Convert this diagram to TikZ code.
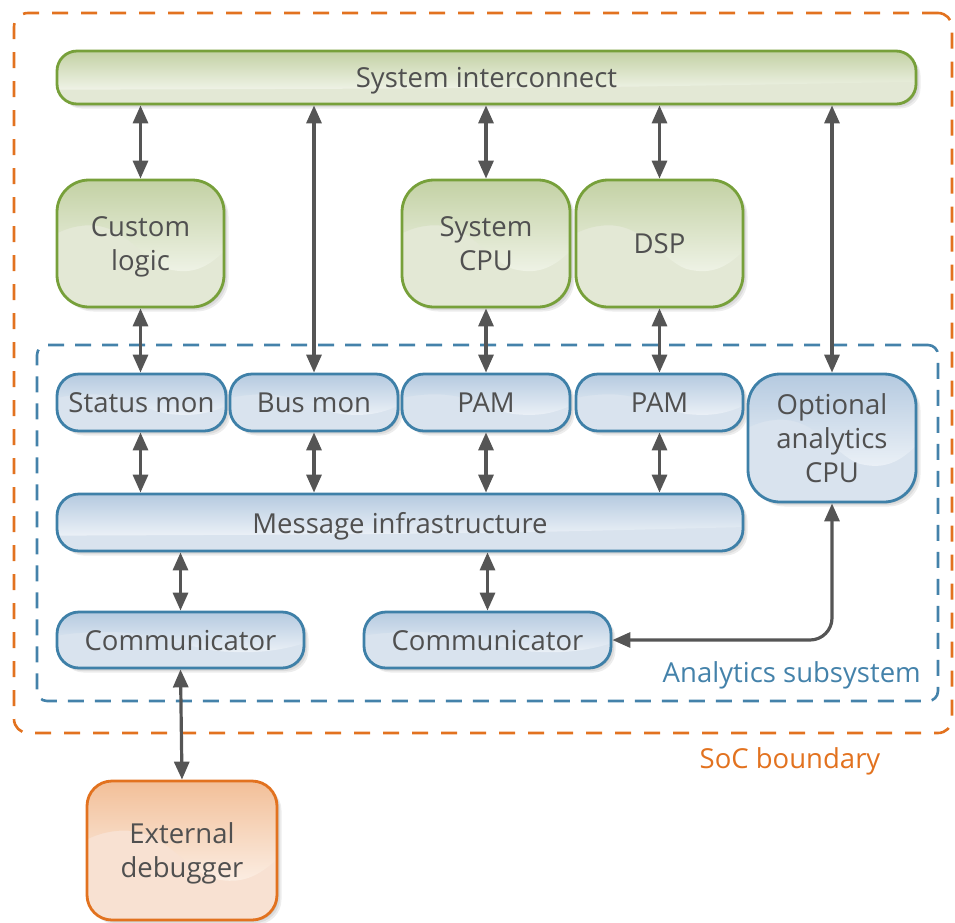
\documentclass[tikz,border=0pt]{standalone}
\usepackage{fontspec}
\setmainfont{Open Sans}
\usetikzlibrary{arrows.meta,calc}
\definecolor{txt}{HTML}{505050}
\definecolor{arrc}{HTML}{555555}
\definecolor{gB}{HTML}{77A03A}
\definecolor{gT}{HTML}{C3D1A4}
\definecolor{gF}{HTML}{E3E8D5}
\definecolor{bB}{HTML}{3E80A8}
\definecolor{bT}{HTML}{B5CAE0}
\definecolor{bF}{HTML}{D9E3EE}
\definecolor{oB}{HTML}{E2721F}
\definecolor{oT}{HTML}{F2BF98}
\definecolor{oF}{HTML}{F8E1D2}
\definecolor{socC}{HTML}{E2721F}
\definecolor{anC}{HTML}{4482AA}
\tikzset{
  softshadow/.style={
    preaction={fill=black,opacity=0.07,transform canvas={xshift=1.5pt,yshift=-1.5pt}},
    preaction={fill=black,opacity=0.07,transform canvas={xshift=3pt,yshift=-3pt}},
    preaction={fill=black,opacity=0.07,transform canvas={xshift=4.5pt,yshift=-4.5pt}}},
  boxbase/.style n args={3}{draw=#1, line width=2.8pt, fill=#2, rounded corners=#3,
    text=txt, align=center, inner sep=0pt, text depth=0pt, softshadow,
    font=\fontsize{27.5pt}{34pt}\selectfont},
  wavy/.style={path picture={
      \shade[sharp corners, top color=#1, bottom color=white]
        let \p1=(path picture bounding box.north west),
            \p2=(path picture bounding box.south east),
            \n1={\x2-\x1}, \n2={\y1-\y2} in
        (\x1,\y1) -- (\x2,\y1) -- ({\x2},{\y1-0.56*\n2})
        .. controls ({\x1+0.88*\n1},{\y1-0.72*\n2}) and ({\x1+0.78*\n1},{\y1-0.74*\n2}) .. ({\x1+0.66*\n1},{\y1-0.70*\n2})
        .. controls ({\x1+0.5*\n1},{\y1-0.62*\n2}) and ({\x1+0.4*\n1},{\y1-0.32*\n2}) .. ({\x1+0.15*\n1},{\y1-0.36*\n2})
        .. controls ({\x1+0.08*\n1},{\y1-0.37*\n2}) and ({\x1+0.03*\n1},{\y1-0.4*\n2}) .. ({\x1},{\y1-0.42*\n2}) -- cycle;}},
  flat/.style={path picture={
      \shade[sharp corners, top color=#1, bottom color=white]
        let \p1=(path picture bounding box.north west),
            \p2=(path picture bounding box.south east),
            \n1={\x2-\x1}, \n2={\y1-\y2} in
        (\x1,\y1) -- (\x2,\y1) -- ({\x2},{\y1-0.58*\n2})
        .. controls ({\x1+0.6*\n1},{\y1-0.70*\n2}) .. ({\x1},{\y1-0.73*\n2}) -- cycle;}},
  gbox/.style={boxbase={gB}{gF}{#1}, wavy=gT},
  bbox/.style={boxbase={bB}{bF}{#1}, wavy=bT},
  obox/.style={boxbase={oB}{oF}{#1}, wavy=oT},
  arr/.style={draw=arrc, line width=3.2pt,
    {Triangle[length=18pt,width=15pt]}-{Triangle[length=18pt,width=15pt]}},
  socline/.style={draw=socC, line width=2.6pt, dash pattern=on 16pt off 13pt, rounded corners=14pt,
    inner sep=0pt},
  anline/.style={draw=anC, line width=2.6pt, dash pattern=on 16pt off 11pt, rounded corners=10pt,
    inner sep=0pt},
  lab/.style={font=\fontsize{27.5pt}{34pt}\selectfont, inner sep=0pt}
}
\begin{document}
\begin{tikzpicture}[x=1pt,y=-1pt]
\useasboundingbox (0,0) rectangle (955,922);
% boundaries
\node[socline, minimum width=938pt, minimum height=720pt] (soc) at (483,373) {};
\node[anline, minimum width=901pt, minimum height=356pt] (ana) at (487.5,523) {};
\node[lab, text=anC, anchor=east] (analab) at (921,675) {Analytics subsystem};
\node[lab, text=socC] (soclab) at (790,761) {SoC boundary};
% boxes
\node[gbox=20pt, flat=gT, minimum width=859pt, minimum height=53pt] (ic) at (486.5,77.5) {System interconnect};
\node[gbox=32pt, minimum width=167pt, minimum height=127pt] (cl) at (140.5,243.5) {Custom\\logic};
\node[gbox=32pt, minimum width=168pt, minimum height=127pt] (cpu) at (486,243.5) {System\\CPU};
\node[gbox=32pt, minimum width=167pt, minimum height=127pt] (dsp) at (659.5,243.5) {DSP};
\node[bbox=22pt, minimum width=169pt, minimum height=57pt] (sm) at (141.5,402.5) {Status mon};
\node[bbox=22pt, minimum width=168pt, minimum height=57pt] (bm) at (314,402.5) {Bus mon};
\node[bbox=22pt, minimum width=168pt, minimum height=57pt] (pam1) at (486,402.5) {PAM};
\node[bbox=22pt, minimum width=167pt, minimum height=57pt] (pam2) at (659.5,402.5) {PAM};
\node[bbox=32pt, minimum width=168pt, minimum height=128pt] (opt) at (832,438) {Optional\\analytics\\CPU};
\node[bbox=22pt, flat=bT, minimum width=686pt, minimum height=57pt] (mi) at (400,522.5) {Message infrastructure};
\node[bbox=22pt, minimum width=247pt, minimum height=56pt] (c1) at (180.5,640) {Communicator};
\node[bbox=22pt, minimum width=247pt, minimum height=56pt] (c2) at (487.5,640) {Communicator};
\node[obox=25pt, minimum width=190pt, minimum height=139pt] (ext) at (182,850.5) {External\\debugger};
% connectors
\draw[arr] (ic.south -| cl.north) -- (cl.north);
\draw[arr] (ic.south -| bm.north) -- (bm.north);
\draw[arr] (ic.south -| cpu.north) -- (cpu.north);
\draw[arr] (ic.south -| dsp.north) -- (dsp.north);
\draw[arr] (ic.south -| opt.north) -- (opt.north);
\draw[arr] (cl.south) -- (cl.south |- sm.north);
\draw[arr] (cpu.south) -- (pam1.north);
\draw[arr] (dsp.south) -- (pam2.north);
\draw[arr] (sm.south -| cl.south) -- (mi.north -| cl.south);
\draw[arr] (bm.south) -- (mi.north -| bm.south);
\draw[arr] (pam1.south) -- (mi.north -| pam1.south);
\draw[arr] (pam2.south) -- (mi.north -| pam2.south);
\draw[arr] (mi.south -| c1.north) -- (c1.north);
\draw[arr] (mi.south -| c2.north) -- (c2.north);
\draw[arr] (c1.south) -- (ext.north);
\draw[arr, rounded corners=22pt] (opt.south) |- (c2.east);
\end{tikzpicture}
\end{document}
